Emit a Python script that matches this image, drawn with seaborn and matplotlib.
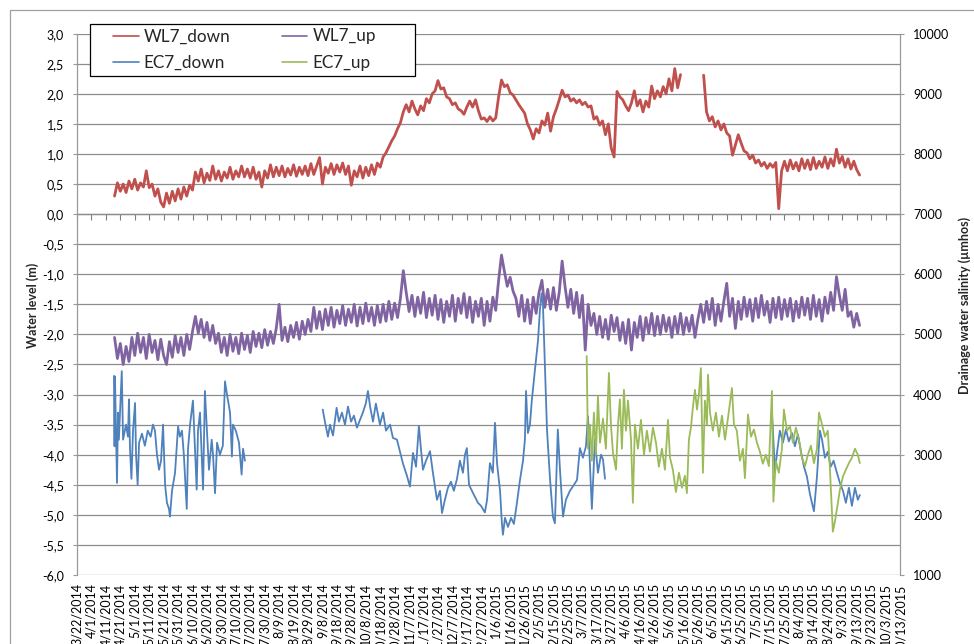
import numpy as np
import pandas as pd
import matplotlib
matplotlib.use("Agg")
import matplotlib.pyplot as plt
import matplotlib.dates as mdates
from matplotlib.lines import Line2D
from matplotlib.patches import Rectangle
import seaborn as sns

START = pd.Timestamp("2014-03-22")
END = pd.Timestamp("2015-10-13")
nan = np.nan

# Water level downstream of the drain (m): one reading every 2 days, starting on day 26
wl_down_first_day = 26
wl_down = [
    0.30, 0.52, 0.38, 0.50, 0.36, 0.55, 0.42, 0.58, 0.40, 0.52,
    0.45, 0.72, 0.44, 0.50, 0.30, 0.42, 0.20, 0.12, 0.35, 0.18,
    0.38, 0.22, 0.42, 0.25, 0.45, 0.30, 0.48, 0.40, 0.70, 0.55,
    0.75, 0.52, 0.68, 0.56, 0.80, 0.58, 0.72, 0.55, 0.70, 0.60,
    0.78, 0.58, 0.72, 0.62, 0.80, 0.62, 0.75, 0.60, 0.78, 0.58,
    0.70, 0.45, 0.72, 0.60, 0.82, 0.62, 0.78, 0.64, 0.80, 0.62,
    0.76, 0.65, 0.82, 0.63, 0.78, 0.66, 0.80, 0.64, 0.84, 0.66,
    0.80, 0.94, 0.50, 0.78, 0.68, 0.84, 0.66, 0.82, 0.70, 0.85,
    0.66, 0.80, 0.48, 0.72, 0.62, 0.80, 0.60, 0.78, 0.64, 0.82,
    0.66, 0.85, 0.78, 0.95, 1.02, 1.12, 1.22, 1.30, 1.42, 1.52,
    1.70, 1.82, 1.70, 1.88, 1.75, 1.65, 1.80, 1.72, 1.92, 1.85,
    2.00, 2.05, 2.22, 2.08, 2.10, 1.95, 1.92, 1.82, 1.85, 1.75,
    1.72, 1.66, 1.78, 1.88, 1.78, 1.90, 1.72, 1.58, 1.60, 1.54,
    1.62, 1.55, 1.60, 1.95, 2.23, 2.12, 2.15, 2.02, 1.98, 1.90,
    1.82, 1.75, 1.68, 1.50, 1.40, 1.25, 1.42, 1.35, 1.55, 1.48,
    1.68, 1.38, 1.62, 1.75, 1.90, 2.06, 1.95, 1.98, 1.88, 1.92,
    1.85, 1.90, 1.82, 1.86, 1.78, 1.80, 1.58, 1.62, 1.48, 1.55,
    1.32, 1.50, 1.10, 0.95, 2.04, 1.95, 1.90, 1.80, 1.72, 1.85,
    2.05, 1.80, 1.90, 1.70, 1.88, 1.78, 2.13, 1.92, 2.05, 1.95,
    2.12, 2.00, 2.25, 2.05, 2.42, 2.10, 2.32, nan, nan, nan,
    nan, nan, nan, nan, 2.31, 1.70, 1.55, 1.62, 1.45, 1.55,
    1.40, 1.50, 1.35, 1.30, 0.98, 1.15, 1.32, 1.18, 1.05, 1.02,
    0.92, 0.98, 0.85, 0.90, 0.80, 0.86, 0.76, 0.84, 0.78, 0.86,
    0.09, 0.72, 0.88, 0.72, 0.90, 0.75, 0.86, 0.72, 0.92, 0.76,
    0.90, 0.74, 0.94, 0.76, 0.88, 0.78, 0.95, 0.76, 0.92, 0.80,
    1.08, 0.85, 0.96, 0.78, 0.92, 0.75, 0.88, 0.74, 0.65,
]

# Water level upstream of the drain (m): one reading every 2 days, starting on day 26
wl_up_first_day = 26
wl_up = [
    -2.05, -2.40, -2.15, -2.50, -2.20, -2.45, -2.05, -2.35, -1.98, -2.30,
    -2.05, -2.40, -2.00, -2.30, -2.10, -2.42, -2.08, -2.35, -2.50, -2.12,
    -2.38, -2.02, -2.30, -2.05, -2.35, -2.00, -2.25, -1.95, -1.70, -1.98,
    -1.75, -2.05, -1.80, -2.10, -1.85, -2.15, -1.98, -2.30, -2.05, -2.35,
    -2.00, -2.28, -2.05, -2.32, -1.98, -2.25, -2.02, -2.30, -1.95, -2.20,
    -1.98, -2.22, -1.92, -2.18, -1.95, -2.15, -1.90, -1.50, -2.10, -1.88,
    -2.12, -1.85, -2.05, -1.80, -2.08, -1.78, -2.00, -1.75, -1.95, -1.55,
    -1.90, -1.62, -1.92, -1.58, -1.85, -1.55, -1.88, -1.60, -1.82, -1.52,
    -1.85, -1.58, -1.80, -1.50, -1.86, -1.55, -1.82, -1.48, -1.78, -1.55,
    -1.85, -1.52, -1.80, -1.50, -1.78, -1.45, -1.75, -1.48, -1.72, -1.40,
    -0.94, -1.30, -1.62, -1.35, -1.70, -1.38, -1.65, -1.30, -1.72, -1.40,
    -1.68, -1.35, -1.75, -1.42, -1.80, -1.45, -1.70, -1.35, -1.78, -1.40,
    -1.65, -1.32, -1.72, -1.38, -1.80, -1.45, -1.70, -1.40, -1.85, -1.45,
    -1.78, -1.38, -1.60, -1.10, -0.68, -0.95, -1.20, -1.05, -1.28, -1.40,
    -1.70, -1.35, -1.78, -1.42, -1.82, -1.38, -1.65, -1.30, -1.10, -1.55,
    -1.25, -1.58, -1.22, -1.60, -1.30, -0.78, -1.20, -1.55, -1.25, -1.65,
    -1.30, -1.72, -1.35, -2.26, -1.50, -1.85, -1.65, -2.00, -1.70, -2.05,
    -1.75, -2.08, -1.68, -1.95, -1.72, -2.10, -1.80, -2.15, -1.75, -2.26,
    -1.80, -2.05, -1.70, -2.10, -1.72, -1.98, -1.65, -2.02, -1.70, -2.00,
    -1.68, -1.95, -1.72, -2.05, -1.70, -1.98, -1.65, -2.00, -1.72, -1.95,
    -1.68, -2.05, -1.75, -1.50, -1.80, -1.45, -1.75, -1.40, -1.85, -1.50,
    -1.78, -1.45, -1.15, -1.70, -1.40, -1.90, -1.45, -1.75, -1.38, -1.70,
    -1.42, -1.78, -1.40, -1.72, -1.35, -1.68, -1.45, -1.80, -1.40, -1.72,
    -1.38, -1.75, -1.42, -1.70, -1.40, -1.78, -1.45, -1.72, -1.38, -1.68,
    -1.40, -1.75, -1.35, -1.70, -1.42, -1.78, -1.38, -1.65, -1.30, -1.60,
    -1.04, -1.35, -1.60, -1.25, -1.70, -1.62, -1.88, -1.65, -1.85,
]

# Drainage water salinity downstream (µmhos); day = days since 22 March 2014, None = logger gap
ec_down_day = [
    25.6, 26.0, 26.3, 27.7, 28.4, 29.0, 31.0, 31.9, 33.9, 35.3, 36.0, 36.7, 37.7, 38.8,
    40.2, 40.9, 42.0, 43.0, 45.0, 47.0, 49.0, 51.0, 52.6, 54.0, 55.4, 56.8, 58.2, 59.6,
    61.0, 62.3, 63.7, 64.4, 65.8, 67.9, 70.0, 71.3, 72.7, 74.0, 76.0, 76.9, 78.3, 80.3,
    82.9, 83.8, 85.2, 87.3, 88.6, 90.0, 91.4, 93.3, 94.2, 95.6, 97.0, 99.0, 101.0, 102.5,
    103.9, 106.0, 107.3, 108.0, 110.0, 112.2, 114.0, 115.0, 116.3,
    140.0,
    170.2, 171.7, 173.8, 175.2, 177.3, 179.8, 181.4, 183.5, 185.6, 187.7, 189.8, 191.8,
    193.9, 196.0, 198.0, 200.0, 201.5, 203.0, 205.0, 207.0, 209.8, 212.0, 214.0, 216.8,
    218.8, 221.6, 223.7, 225.8, 228.5, 230.6, 232.7, 234.8, 236.8, 238.2, 239.6, 241.7,
    244.5, 246.5, 249.3, 251.4, 252.8, 254.8, 256.9, 259.0, 261.0, 263.2, 265.2, 267.3,
    268.7, 270.0, 271.5, 273.5, 275.6, 277.7, 279.8, 282.5, 284.0, 286.0, 288.0, 289.5,
    290.9, 293.0, 294.3, 295.0, 296.4, 298.5, 300.6, 302.6, 304.7, 306.8, 308.9, 310.2,
    311.0, 312.3, 313.7, 315.0, 317.2, 319.3, 320.6, 321.7, 322.7, 324.0, 325.5, 327.6,
    329.6, 331.0, 333.0, 334.5, 336.6, 338.6, 341.4, 344.2, 346.3, 348.3, 350.4, 352.5,
    353.9, 355.3, 356.6, 358.7, 360.8, 362.9, 364.3, 365.7,
    420.0,
    481.3, 482.0, 483.4, 484.8, 486.8, 488.9, 491.0, 493.0, 495.2, 497.2, 499.3, 501.4,
    503.5, 505.5, 507.6, 509.0, 510.4, 512.5, 514.5, 516.0, 518.0, 520.0, 522.0, 524.0,
    526.3, 528.4, 530.5, 532.5, 534.6, 536.7, 538.8, 540.8, 542.2,
]
ec_down = [
    4310, 3140, 4300, 2530, 3700, 3250, 4390, 3250, 3500, 3300, 3920, 3100, 2600, 3400,
    3860, 3000, 2500, 3200, 3350, 3150, 3400, 3300, 3500, 3400, 3000, 2750, 2900, 3500,
    2500, 2200, 2100, 1970, 2400, 2700, 3470, 3300, 3400, 3000, 2100, 3100, 3500, 3900,
    2420, 3400, 3700, 2420, 4060, 3400, 2750, 3250, 3000, 2360, 3200, 3000, 3150, 4220,
    4000, 3700, 2970, 3500, 3400, 3200, 2670, 3100, 2900,
    None,
    3750, 3550, 3300, 3500, 3320, 3780, 3550, 3700, 3500, 3800, 3550, 3650,
    3450, 3580, 3700, 3850, 4060, 3800, 3550, 3850, 3500, 3700, 3400, 3500,
    3280, 3250, 3050, 2850, 2650, 2470, 3030, 2800, 3480, 3100, 2750, 2900,
    3060, 2700, 2250, 2400, 2030, 2250, 2450, 2550, 2400, 2600, 2900, 2700,
    3000, 3110, 2500, 2400, 2300, 2200, 2150, 2040, 2250, 2860, 2700, 3530,
    2860, 2400, 1850, 1670, 1950, 1800, 1950, 1850, 2200, 2580, 2900, 3250,
    4060, 3360, 3500, 3900, 4420, 4900, 5400, 5680, 5500, 4530, 3420, 2600,
    1970, 1860, 3420, 2750, 1970, 2250, 2400, 2500, 2580, 3110, 2950, 3140,
    3640, 2800, 2100, 3250, 2700, 3000, 2920, 2600,
    None,
    3700, 3400, 2700, 3030, 3400, 3200, 3420, 3220, 3360, 3140, 3340, 3050,
    2800, 2640, 2350, 2200, 2060, 2640, 3400, 3250, 2950, 3050, 2800, 2900,
    2700, 2530, 2400, 2200, 2450, 2150, 2450, 2250, 2330,
]

# Drainage water salinity upstream (µmhos); day = days since 22 March 2014
ec_up_day = [
    353.0, 353.9, 355.3, 356.6, 358.0, 359.4, 360.8, 362.2, 364.3, 366.3, 368.4, 369.8,
    371.2, 373.3, 374.7, 376.0, 377.4, 378.8, 380.2, 381.6, 383.7, 385.0, 386.4, 388.5,
    390.6, 392.7, 394.7, 396.8, 398.9, 401.0, 403.0, 405.1, 407.2, 409.3, 410.7, 412.7,
    414.8, 416.9, 419.0, 421.0, 422.4, 423.8, 425.2, 426.6, 428.0, 429.4, 430.7, 432.1,
    433.5, 434.9, 436.3, 437.0, 438.4, 440.4, 442.5, 444.6, 446.7, 448.8, 450.8, 453.6,
    455.0, 457.0, 459.1, 461.2, 462.6, 464.7, 466.8, 468.8, 470.9, 473.0, 475.0, 477.1,
    479.2, 481.3, 482.3, 484.0, 486.1, 488.2, 489.6, 491.7, 493.8, 495.8, 497.9, 500.0,
    502.1, 504.2, 506.2, 508.3, 510.4, 512.5, 513.9, 516.0, 518.0, 520.0, 521.5, 523.5,
    525.0, 527.0, 528.4, 530.5, 532.5, 534.6, 536.7, 538.8, 540.8, 542.2,
]
ec_up = [
    4640, 3100, 3500, 2900, 3700, 3000, 3970, 3200, 3600, 3100, 4360, 3500,
    3030, 2750, 3500, 3920, 3100, 4080, 3400, 3900, 3250, 2200, 3500, 3100,
    3580, 3000, 3400, 3050, 3450, 3200, 2800, 3100, 2750, 3580, 2950, 2750,
    2380, 2700, 2450, 2650, 2360, 3250, 3450, 3800, 4080, 3750, 4000, 4440,
    2700, 3900, 3500, 4330, 3700, 3400, 3700, 3300, 3650, 3250, 3600, 4110,
    3500, 3400, 2900, 3100, 2610, 3670, 3300, 3420, 3200, 3050, 2850, 3000,
    2810, 4060, 2220, 2900, 2700, 3100, 3750, 3400, 3470, 3200, 3450, 3250,
    2950, 2810, 3000, 3150, 2860, 3100, 3700, 3500, 3300, 3400, 2750, 1720,
    1900, 2200, 2420, 2640, 2750, 2860, 2950, 3100, 3000, 2860,
]

series_names = ["WL7_down", "WL7_up", "EC7_down", "EC7_up"]
series_colors = ["#C0504D", "#8064A2", "#4F81BD", "#9BBB59"]
series_widths = [2.0, 2.0, 1.3, 1.3]

level_ticks = [-6.0, -5.5, -5.0, -4.5, -4.0, -3.5, -3.0, -2.5, -2.0, -1.5, -1.0,
               -0.5, 0.0, 0.5, 1.0, 1.5, 2.0, 2.5, 3.0]
salinity_ticks = [1000, 2000, 3000, 4000, 5000, 6000, 7000, 8000, 9000, 10000]


def to_frame(days, values):
    df = pd.DataFrame({"day": days, "value": pd.to_numeric(pd.Series(values), errors="coerce")})
    df["seg"] = df["value"].isna().cumsum()
    df = df.dropna(subset=["value"]).copy()
    df["date"] = START + pd.to_timedelta(df["day"], unit="D")
    return df


def regular_days(first_day, values):
    return [first_day + 2 * i for i in range(len(values))]


sns.set_style("white")
plt.rcParams["font.family"] = ["Lato", "DejaVu Sans"]
plt.rcParams["axes.unicode_minus"] = False

GRID = "#8C8C8C"
AXIS = "#9A9A9A"

fig = plt.figure(figsize=(9.74, 6.44), dpi=100)
ax = fig.add_axes([77 / 974, 1 - 575 / 644, 823 / 974, (575 - 33.7) / 644])
ax2 = ax.twinx()

frames = [
    (ax, to_frame(regular_days(wl_down_first_day, wl_down), wl_down)),
    (ax, to_frame(regular_days(wl_up_first_day, wl_up), wl_up)),
    (ax2, to_frame(ec_down_day, ec_down)),
    (ax2, to_frame(ec_up_day, ec_up)),
]
for (target, df), color, width in zip(frames, series_colors, series_widths):
    sns.lineplot(data=df, x="date", y="value", units="seg", estimator=None,
                 ax=target, color=color, linewidth=width, legend=False, sort=False)

# Axes ranges and ticks
ax.set_xlim(START, END)
ax.set_ylim(-6, 3)
ax2.set_ylim(1000, 10000)
ax.set_xlabel("")
ax.set_ylabel("")
ax2.set_xlabel("")
ax2.set_ylabel("")

date_ticks = pd.date_range(START, END, freq="10D")
date_labels = [f"{d.month}/{d.day}/{d.year}" for d in date_ticks]
tick_nums = mdates.date2num(date_ticks.to_pydatetime())
ax.set_xticks(tick_nums)
ax.set_xticklabels(date_labels, rotation=90, fontsize=9)
ax.tick_params(axis="x", length=0, pad=6, labelcolor="black")

ax.set_yticks(level_ticks)
ax.set_yticklabels([f"{v:.1f}".replace(".", ",") for v in level_ticks], fontsize=9)
ax.tick_params(axis="y", direction="out", length=3, color=AXIS, pad=6.5, labelcolor="black")
ax2.set_yticks(salinity_ticks)
ax2.set_yticklabels([str(v) for v in salinity_ticks], fontsize=9)
ax2.tick_params(axis="y", direction="out", length=3, color=AXIS, pad=6.5, labelcolor="black")

ax.grid(False)
ax2.grid(False)
ax.yaxis.grid(True, color=GRID, linewidth=0.9)
ax.set_axisbelow(True)

for name, sp in ax.spines.items():
    sp.set_visible(name == "left")
ax.spines["left"].set_color(AXIS)
ax.spines["left"].set_linewidth(0.9)
for name, sp in ax2.spines.items():
    sp.set_visible(name == "right")
ax2.spines["right"].set_color(AXIS)
ax2.spines["right"].set_linewidth(0.9)

# Category axis crossing at zero level, with date tick marks
zero_axis = ax.secondary_xaxis(6 / 9)
zero_axis.set_alignment("bottom")
zero_axis.set_xticks(tick_nums)
zero_axis.tick_params(axis="x", direction="out", length=4, color="#7F7F7F",
                      labelbottom=False, labeltop=False)
zero_axis.spines["bottom"].set_color("#7F7F7F")
zero_axis.spines["bottom"].set_linewidth(0.9)

# Axis titles
fig.text(33 / 974, 1 - 305 / 644, "Water level (m)", rotation=90, ha="center",
         va="center", fontsize=9, fontweight="bold")
fig.text(965 / 974, 1 - 305 / 644, "Drainage water salinity (µmhos)", rotation=90,
         ha="center", va="center", fontsize=9, fontweight="bold")

# Chart border
fig.patches.append(Rectangle((10 / 974, -0.05), 1.2, 1 - 10 / 644 + 0.05,
                             transform=fig.transFigure, fill=False,
                             edgecolor="#A0A0A0", linewidth=0.9, zorder=0))

# Legend box and entries
fig.patches.append(Rectangle((90 / 974, 1 - 76 / 644), 325 / 974, 52 / 644,
                             transform=fig.transFigure, facecolor="white",
                             edgecolor="black", linewidth=0.9, zorder=4))
order = [0, 2, 1, 3]
handles = [Line2D([], [], color=series_colors[i], linewidth=1.2) for i in order]
labels = [series_names[i] for i in order]
fig.legend(handles, labels, ncol=2, loc="upper left",
           bbox_to_anchor=(113 / 974, 1 - 28.5 / 644), frameon=False,
           fontsize=12.3, handlelength=1.5, handletextpad=0.3,
           columnspacing=3.0, labelspacing=0.6, borderpad=0, borderaxespad=0)

fig.savefig("out.png", dpi=100)
